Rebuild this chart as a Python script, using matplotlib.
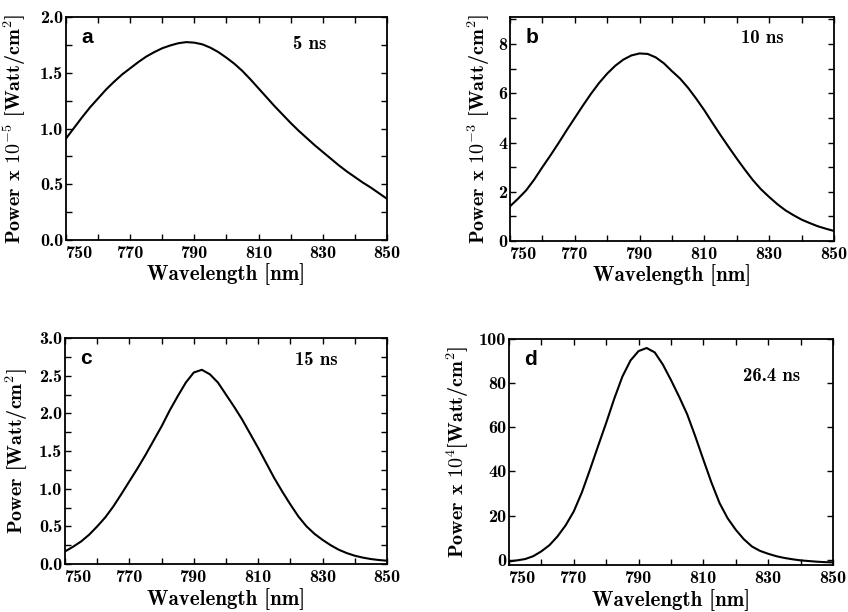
import numpy as np
import matplotlib
matplotlib.use("Agg")
import matplotlib.pyplot as plt

plt.rcParams['font.family'] = ['cmb10', 'DejaVu Serif']
plt.rcParams['mathtext.fontset'] = 'cm'
plt.rcParams['axes.unicode_minus'] = False

# wavelength grid [nm], every 2.5 nm
wl = np.arange(750, 850.1, 2.5)

# a) 5 ns, Power x 1e-5 W/cm^2
p_a = [0.91, 1.005, 1.10, 1.19, 1.27, 1.35, 1.42, 1.485, 1.54, 1.595, 1.645, 1.685, 1.72, 1.745,
       1.765, 1.775, 1.77, 1.755, 1.725, 1.685, 1.635, 1.58, 1.515, 1.44, 1.36, 1.28, 1.20,
       1.125, 1.05, 0.98, 0.915, 0.85, 0.79, 0.73, 0.67, 0.615, 0.565, 0.515, 0.47, 0.42, 0.37]
# b) 10 ns, Power x 1e-3 W/cm^2
p_b = [1.41, 1.72, 2.06, 2.5, 3.0, 3.48, 3.98, 4.5, 5.0, 5.5, 5.98, 6.42, 6.8, 7.12,
       7.37, 7.54, 7.62, 7.6, 7.46, 7.22, 6.9, 6.6, 6.22, 5.78, 5.31, 4.8, 4.3,
       3.82, 3.35, 2.9, 2.47, 2.1, 1.79, 1.5, 1.25, 1.05, 0.87, 0.73, 0.6, 0.5, 0.41]
# c) 15 ns, Power W/cm^2
p_c = [0.167, 0.23, 0.30, 0.39, 0.50, 0.62, 0.765, 0.93, 1.10, 1.27, 1.45, 1.64, 1.83, 2.04,
       2.23, 2.41, 2.545, 2.58, 2.52, 2.41, 2.25, 2.09, 1.92, 1.73, 1.54, 1.34, 1.14,
       0.96, 0.79, 0.63, 0.50, 0.40, 0.32, 0.25, 0.19, 0.145, 0.11, 0.085, 0.066, 0.053, 0.044]
# d) 26.4 ns, Power x 1e4 W/cm^2
p_d = [-0.8, -0.3, 0.3, 1.6, 3.8, 6.6, 10.6, 15.6, 21.9, 30.5, 40.8, 51.5, 62.0, 73.0,
       83.0, 90.3, 94.6, 96.0, 94.0, 88.5, 81.5, 74.0, 66.0, 56.0, 45.4, 35.0, 25.7,
       18.8, 13.6, 9.3, 6.0, 4.0, 2.7, 1.6, 0.8, 0.2, -0.3, -0.6, -0.9, -1.1, -1.2]

panels = ['a', 'b', 'c', 'd']
times = ['5 ns', '10 ns', '15 ns', '26.4 ns']
ylabels = [r'Power x $\mathbf{10^{-5}}$ [Watt/cm$\mathbf{^2}$]',
           r'Power x $\mathbf{10^{-3}}$ [Watt/cm$\mathbf{^2}$]',
           r'Power [Watt/cm$\mathbf{^2}$]',
           r'Power x $\mathbf{10^{4}}$[Watt/cm$\mathbf{^2}$]']
series = [p_a, p_b, p_c, p_d]
ylims = [(0, 2.0), (0, 9.1), (0, 3.0), (-2.4, 100)]
yticks = [np.arange(0, 2.01, 0.5), np.arange(0, 8.1, 2), np.arange(0, 3.01, 0.5), np.arange(0, 101, 20)]
yminor = [np.arange(0, 2.01, 0.25), np.arange(0, 9.1, 1), np.arange(0, 3.01, 0.25), None]
yfmt = ['%.1f', '%d', '%.1f', '%d']

rects = [[0.0778, 0.6078, 0.3785, 0.3644],
         [0.6014, 0.6062, 0.3820, 0.3660],
         [0.0767, 0.0784, 0.3797, 0.3690],
         [0.6002, 0.0768, 0.3820, 0.3690]]
ylab_x = [-0.118, -0.056, -0.109, -0.117]
time_pos = [(0.76, 0.856), (0.78, 0.883), (0.78, 0.88), (0.81, 0.814)]

fig = plt.figure(figsize=(8.48, 6.12), dpi=100)

for i in range(4):
    ax = fig.add_axes(rects[i])
    ax.plot(wl, series[i], color='black', lw=1.5)
    ax.set_xlim(750, 850)
    ax.set_ylim(*ylims[i])
    xt = np.arange(750, 851, 10)
    ax.set_xticks(xt)
    ax.set_xticklabels([str(v) if (v - 750) % 20 == 0 else '' for v in xt], fontsize=13)
    ax.get_xticklabels()[0].set_horizontalalignment('left')
    ax.set_yticks(yticks[i])
    ax.set_yticklabels([yfmt[i] % v for v in yticks[i]], fontsize=13)
    if yminor[i] is not None:
        ax.set_yticks(yminor[i], minor=True)
    ax.tick_params(which='both', direction='in', top=True, right=True, length=4, width=1.0)
    ax.tick_params(axis='x', pad=4)
    ax.tick_params(axis='y', pad=2)
    for s in ax.spines.values():
        s.set_linewidth(1.3)
    ax.set_xlabel('Wavelength [nm]', fontsize=15)
    ax.xaxis.set_label_coords(0.5, -0.105)
    ax.set_ylabel(ylabels[i], fontsize=14.5)
    ax.yaxis.set_label_coords(ylab_x[i], 0.5)
    ax.text(0.047, 0.885, panels[i], transform=ax.transAxes, fontsize=15,
            family='Liberation Sans', fontweight='bold', va='baseline')
    ax.text(time_pos[i][0], time_pos[i][1], times[i], transform=ax.transAxes,
            fontsize=13.5, ha='center', va='baseline')

fig.savefig('out.png', dpi=100)
